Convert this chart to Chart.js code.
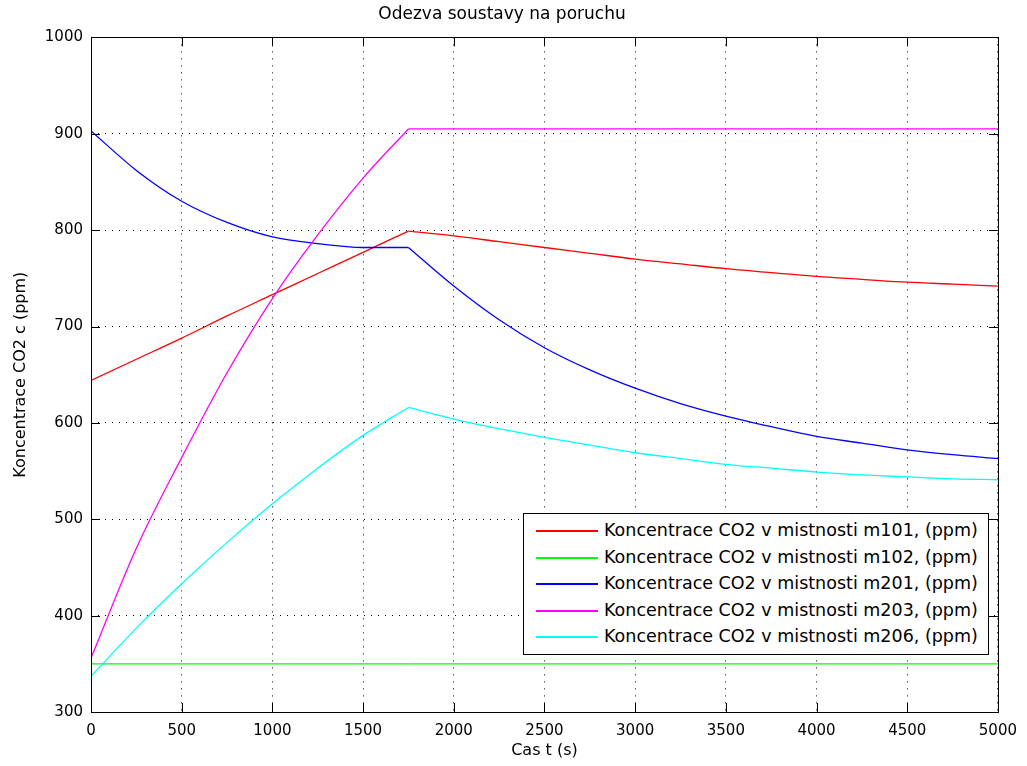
<!DOCTYPE html>
<html>
<head>
<meta charset="utf-8">
<title>Odezva soustavy na poruchu</title>
<script src="https://cdn.jsdelivr.net/npm/chart.js@4.4.1/dist/chart.umd.min.js"></script>
<style>
  body { margin: 0; background: #fff; }
  #wrap { position: relative; width: 1027px; height: 766px; }
  #legend {
    position: absolute; left: 523px; top: 513px; width: 464px; height: 137px;
    border: 1px solid #000; background: #fff;
    font-family: "DejaVu Sans", sans-serif; font-size: 17.5px; color: #000;
    padding-top: 3px;
  }
  #legend .row { height: 26.5px; line-height: 26.5px; white-space: nowrap; }
  #legend .swatch { display: inline-block; width: 62px; height: 2px; margin: 0 6px 0 12px; vertical-align: middle; }
</style>
</head>
<body>
<div id="wrap">
  <canvas id="chart" width="1027" height="766"></canvas>
  <div id="legend"></div>
</div>
<script>
// phase 1: fault active (0..1750 s), phase 2: recovery (1750..5000 s)
const riseTime = [0, 250, 500, 750, 1000, 1250, 1500, 1750];
const decayTime = [1750, 2000, 2250, 2500, 2750, 3000, 3250, 3500,
  3750, 4000, 4250, 4500, 4750, 5000];

// CO2 concentration per room (ppm)
const m101Rise = [644, 666, 688, 711, 733, 755, 777, 799];
const m101Decay = [799, 794, 788, 782, 776, 770, 765, 760, 756, 752, 749, 746, 744, 742];
const m102Rise = [350, 350, 350, 350, 350, 350, 350, 350];
const m102Decay = [350, 350, 350, 350, 350, 350, 350, 350, 350, 350, 350, 350, 350, 350];
const m201Rise = [903, 862, 830, 808, 793, 786, 782, 782];
const m201Decay = [782, 742, 707, 678, 655, 636, 620, 607, 596, 586, 579, 572, 567, 563];
const m203Rise = [356, 470, 564, 652, 729, 795, 854, 905];
const m203Decay = [905, 905, 905, 905, 905, 905, 905, 905, 905, 905, 905, 905, 905, 905];
const m206Rise = [337, 387, 433, 476, 516, 553, 587, 616];
const m206Decay = [616, 604, 594, 585, 577, 569, 563, 557, 553, 549, 546, 544, 542, 541];

const xTicks = [0, 500, 1000, 1500, 2000, 2500, 3000, 3500, 4000, 4500, 5000];
const yTicks = [300, 400, 500, 600, 700, 800, 900, 1000];

const seriesNames = [
  "Koncentrace CO2 v mistnosti m101, (ppm)",
  "Koncentrace CO2 v mistnosti m102, (ppm)",
  "Koncentrace CO2 v mistnosti m201, (ppm)",
  "Koncentrace CO2 v mistnosti m203, (ppm)",
  "Koncentrace CO2 v mistnosti m206, (ppm)"
];
const seriesColors = ["#ff0000", "#00ff00", "#0000ff", "#ff00ff", "#00ffff"];
const riseData = [m101Rise, m102Rise, m201Rise, m203Rise, m206Rise];
const decayData = [m101Decay, m102Decay, m201Decay, m203Decay, m206Decay];

const FONT = "'DejaVu Sans', sans-serif";

function toPoints(t, values) {
  return values.map((v, i) => ({ x: t[i], y: v }));
}

function makeDataset(i, t, values) {
  return {
    label: seriesNames[i],
    data: toPoints(t, values),
    borderColor: seriesColors[i],
    backgroundColor: seriesColors[i],
    borderWidth: 1.3,
    pointRadius: 0,
    cubicInterpolationMode: "monotone",
    fill: false,
    order: 4 - i
  };
}

const datasets = [];
seriesNames.forEach((name, i) => {
  datasets.push(makeDataset(i, riseTime, riseData[i]));
  datasets.push(makeDataset(i, decayTime, decayData[i]));
});

// frame box + inward tick marks (matlab style)
const frameTicks = {
  id: "frameTicks",
  afterDraw(chart) {
    const ctx = chart.ctx;
    const a = chart.chartArea;
    const xs = chart.scales.x;
    const ys = chart.scales.y;
    const len = 9;
    ctx.save();
    ctx.strokeStyle = "#000";
    ctx.lineWidth = 1;
    ctx.setLineDash([]);
    ctx.beginPath();
    xTicks.forEach((t) => {
      const px = Math.round(xs.getPixelForValue(t)) + 0.5;
      ctx.moveTo(px, a.bottom); ctx.lineTo(px, a.bottom - len);
      ctx.moveTo(px, a.top); ctx.lineTo(px, a.top + len);
    });
    yTicks.forEach((t) => {
      const py = Math.round(ys.getPixelForValue(t)) + 0.5;
      ctx.moveTo(a.left, py); ctx.lineTo(a.left + len, py);
      ctx.moveTo(a.right, py); ctx.lineTo(a.right - len, py);
    });
    ctx.stroke();
    ctx.strokeRect(Math.round(a.left) + 0.5, Math.round(a.top) + 0.5,
      Math.round(a.right - a.left), Math.round(a.bottom - a.top));
    ctx.restore();
  }
};

const ctx = document.getElementById("chart").getContext("2d");
const chart = new Chart(ctx, {
  type: "line",
  data: { datasets: datasets },
  options: {
    responsive: false,
    animation: false,
    layout: { padding: { left: 0, right: 23, top: 0, bottom: 0 } },
    plugins: {
      legend: { display: false },
      tooltip: { enabled: false },
      title: {
        display: true,
        text: "Odezva soustavy na poruchu",
        color: "#000",
        font: { family: FONT, size: 17, weight: "normal" },
        padding: { top: 4, bottom: 13 }
      }
    },
    scales: {
      x: {
        type: "linear",
        min: 0,
        max: 5000,
        afterBuildTicks(scale) { scale.ticks = xTicks.map((v) => ({ value: v })); },
        afterFit(scale) { scale.height = 54; },
        grid: { color: "#000", lineWidth: 1, drawTicks: false },
        border: { display: false, dash: [1, 6] },
        ticks: {
          color: "#000", padding: 10, maxRotation: 0,
          font: { family: FONT, size: 15 },
          callback: (v) => String(v)
        },
        title: {
          display: true,
          text: "Cas t (s)",
          color: "#000",
          font: { family: FONT, size: 16 },
          padding: { top: 0, bottom: 6 }
        }
      },
      y: {
        min: 300,
        max: 1000,
        afterBuildTicks(scale) { scale.ticks = yTicks.map((v) => ({ value: v })); },
        afterFit(scale) { scale.width = 91; },
        grid: { color: "#000", lineWidth: 1, drawTicks: false },
        border: { display: false, dash: [1, 6] },
        ticks: {
          color: "#000", padding: 8,
          font: { family: FONT, size: 15 },
          callback: (v) => String(v)
        },
        title: {
          display: true,
          text: "Koncentrace CO2 c (ppm)",
          color: "#000",
          font: { family: FONT, size: 16 },
          padding: { top: 11, bottom: 0 }
        }
      }
    }
  },
  plugins: [frameTicks]
});

// legend inside the plot, one row per room
const legendEl = document.getElementById("legend");
seriesNames.forEach((name, i) => {
  const row = document.createElement("div");
  row.className = "row";
  const sw = document.createElement("span");
  sw.className = "swatch";
  sw.style.background = seriesColors[i];
  row.appendChild(sw);
  row.appendChild(document.createTextNode(name));
  legendEl.appendChild(row);
});
</script>
</body>
</html>
